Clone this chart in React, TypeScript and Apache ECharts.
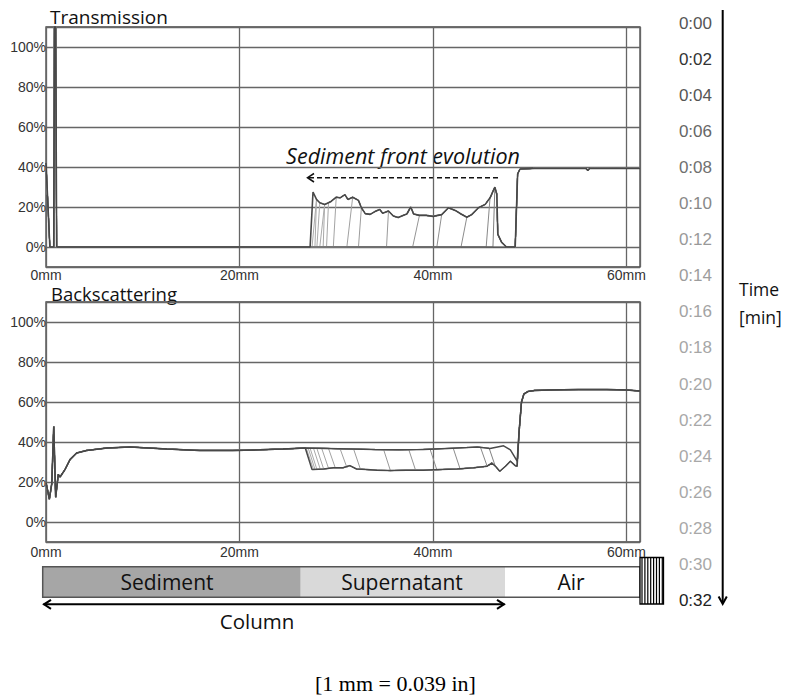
import React, { useEffect, useRef } from 'react';
import * as echarts from 'echarts';

// ---------- DATA ----------
const timeLabels = ['0:00', '0:02', '0:04', '0:06', '0:08', '0:10', '0:12', '0:14', '0:16', '0:18', '0:20', '0:22', '0:24', '0:26', '0:28', '0:30', '0:32'];
const timeColors = ['#555', '#333', '#555', '#666', '#707070', '#888', '#999', '#9c9c9c', '#a3a3a3', '#a6a6a6', '#a8a8a8', '#a8a8a8', '#a8a8a8', '#a8a8a8', '#a8a8a8', '#a8a8a8', '#222'];

// Transmission (% vs mm)
const tEntrance: number[][] = [[0, 42], [0.4, 0], [0.8, 0], [0.88, 125], [0.99, 125], [1.1, 0]];
const tFronts = [47.6, 46.2, 45.5, 42.9, 40.4, 37.9, 35.2, 32.3, 31.1, 29.7, 29.0, 28.65, 28.3, 28.0, 27.8, 27.5, 27.3];
const tSupernatant: number[][] = [
  [27.4, 28.2], [27.6, 27.5], [27.96, 23.8], [28.3, 22.1], [28.8, 21.3], [29.2, 22.1], [29.5, 22.9], [30.0, 24.9],
  [30.4, 24.6], [30.9, 26.2], [31.2, 23.8], [31.7, 24.9], [32.3, 23.3], [32.6, 19.6], [33.0, 16.7], [33.5, 16.3],
  [34.0, 17.7], [34.5, 18.8], [34.8, 16.9], [35.4, 18.0], [35.9, 15.5], [36.4, 14.7], [36.9, 15.8], [37.3, 16.5],
  [37.7, 20.0], [38.0, 16.5], [38.6, 15.8], [39.3, 15.8], [40.0, 15.3], [40.9, 16.2], [41.6, 19.6], [42.3, 18.3],
  [42.9, 16.5], [43.5, 14.9], [44.0, 16.2], [44.7, 19.6], [45.4, 21.3], [45.9, 24.6], [46.4, 29.9], [46.6, 26.4],
  [46.7, 6.4], [47.1, 2.3], [47.6, 0],
];
const tAir: number[][] = [[48.5, 0], [48.75, 36.5], [49.0, 39.0], [50.5, 39.3], [53, 39.3], [55.8, 39.3], [56.0, 38.3], [56.2, 39.3], [59, 39.4], [61.4, 39.3]];

// Backscattering (% vs mm)
const bsUpper: number[][] = [
  [0, 19.8], [0.35, 11.4], [0.6, 19.3], [0.8, 47.7], [1.0, 12.4], [1.27, 23.8], [1.45, 22.5], [1.96, 26.2],
  [2.48, 31.2], [3.17, 34.5], [4.2, 35.8], [6.3, 37.0], [8.7, 37.5], [12.5, 36.5], [15.9, 35.8], [19.3, 35.8],
  [22.1, 36.1], [24.5, 36.5], [26.9, 37.0], [29, 36.8], [31.5, 36.5], [34, 36.2], [36.5, 36.1], [39, 36.3],
  [41.5, 36.8], [43.5, 37.2], [44.6, 37.5], [45.9, 36.8], [47.3, 38.1], [48.0, 36.1], [48.3, 33.7], [48.7, 30.4],
];
const bsLower: number[][] = [
  [27.6, 26.2], [28.7, 26.5], [29.7, 27.1], [30.7, 27.1], [31.4, 28.2], [32.1, 26.5], [33.2, 26.2], [34.2, 25.9],
  [35.6, 25.7], [37.3, 25.9], [39.0, 25.9], [40.7, 26.2], [42.5, 26.5], [44.2, 27.1], [45.6, 27.9], [46.1, 29.5],
  [46.6, 27.1], [46.9, 25.4], [47.5, 27.9], [48.0, 30.4], [48.5, 28.2], [48.7, 27.9],
];
// drop of each profile: [x top, % top, x bottom, % bottom]
const bsDrops: (number[] | null)[] = [
  null,
  [45.8, 37.0, 46.4, 28.5], [44.9, 37.5, 45.6, 27.9], [42.1, 36.8, 42.8, 26.6], [39.7, 36.4, 40.4, 26.1],
  [37.5, 36.2, 38.2, 25.9], [34.9, 36.2, 35.6, 25.7], [31.8, 36.4, 32.5, 26.4], [30.4, 36.6, 31.1, 27.3],
  [29.2, 36.8, 29.9, 27.1], [28.5, 36.8, 29.2, 26.9], [28.0, 36.8, 28.7, 26.5], [27.65, 36.9, 28.35, 26.4],
  [27.3, 36.9, 28.0, 26.3], [27.1, 37.0, 27.8, 26.3], [26.95, 37.0, 27.65, 26.2], [26.8, 37.0, 27.5, 26.2],
];
const bsAir: number[][] = [[48.9, 45], [49.15, 60], [49.4, 64.0], [49.8, 65.2], [50.5, 65.8], [52, 66.0], [55, 66.2], [58, 66.2], [60, 66.0], [61.4, 65.5]];

// ---------- STYLE ----------
const lineColors = ['#4a4a4a', '#808080', '#888', '#8c8c8c', '#909090', '#959595', '#999', '#9c9c9c', '#a0a0a0', '#a3a3a3', '#a6a6a6', '#a8a8a8', '#aaa', '#aaa', '#aaa', '#aaa', '#484848'];
const AX_FONT = '"Liberation Sans", Arial, sans-serif';
const CAL_FONT = '"Open Sans", "Noto Sans", sans-serif';

function buildOption() {
  const tSeries = timeLabels.map((_, i) => {
    const f = tFronts[i];
    const data = [
      ...tEntrance,
      [f, 0],
      ...tSupernatant.filter((p) => p[0] > f + 0.1),
      ...tAir,
    ];
    const dark = i === 0 || i === 16;
    return {
      type: 'line', xAxisIndex: 0, yAxisIndex: 0, data, symbol: 'none', silent: true, z: dark ? 3 : 2,
      lineStyle: { color: lineColors[i], width: i === 16 ? 1.6 : 1 },
    };
  });
  const bsSeries = timeLabels.map((_, i) => {
    const d = bsDrops[i];
    const data = d
      ? [...bsUpper.filter((p) => p[0] < d[0]), [d[0], d[1]], [d[2], d[3]], ...bsLower.filter((p) => p[0] > d[2]), ...bsAir]
      : [...bsUpper, ...bsAir];
    const dark = i === 0 || i === 16;
    return {
      type: 'line', xAxisIndex: 1, yAxisIndex: 1, data, symbol: 'none', silent: true, z: dark ? 3 : 2,
      lineStyle: { color: lineColors[i], width: dark ? 1.5 : 1 },
    };
  });

  const xAx = (g: number) => ({
    type: 'value', gridIndex: g, min: 0, max: 61.4, interval: 20,
    axisLine: { show: false }, axisTick: { show: false },
    axisLabel: { formatter: '{value}mm', showMaxLabel: false, margin: g === 0 ? 1 : 3, lineHeight: 13, fontFamily: AX_FONT, fontSize: 14, color: '#333' },
    splitLine: { show: true, lineStyle: { color: '#666', width: 1.3 } },
  });
  const yAx = (g: number) => ({
    type: 'value', gridIndex: g, min: -10, max: 110,
    axisLine: { show: false }, axisTick: { show: false },
    axisLabel: {
      formatter: (v: number) => `${Math.round(v)}%`, showMinLabel: false, showMaxLabel: false,
      margin: 0, fontFamily: AX_FONT, fontSize: 14, color: '#333', padding: [0, 0, 7, 0],
    },
    splitLine: { show: true, lineStyle: { color: '#666', width: 1.3 } },
  });

  const stripes = Array.from({ length: 8 }, (_, k) => ({
    type: 'line', shape: { x1: 642 + 2.9 * k, y1: 558, x2: 642 + 2.9 * k, y2: 604 },
    style: { stroke: '#000', lineWidth: 1.2 }, silent: true,
  }));

  const txt = (text: string, x: number, y: number, font: string, align = 'center', fill = '#111', lineHeight?: number) => ({
    type: 'text', x, y, silent: true,
    style: { text, font, fill, align, textAlign: align, verticalAlign: 'middle', textVerticalAlign: 'middle', ...(lineHeight ? { lineHeight } : {}) },
  });

  return {
    animation: false,
    backgroundColor: '#fff',
    grid: [
      { left: 46, top: 27, width: 594, height: 240, show: true, borderColor: '#444', borderWidth: 1.3, backgroundColor: 'transparent' },
      { left: 46, top: 302, width: 594, height: 240, show: true, borderColor: '#444', borderWidth: 1.3, backgroundColor: 'transparent' },
      { left: 722, top: 5.5, width: 10, height: 612.85, show: false },
    ],
    xAxis: [xAx(0), xAx(1), { type: 'value', gridIndex: 2, show: false }],
    yAxis: [
      yAx(0), yAx(1),
      {
        type: 'category', gridIndex: 2, data: timeLabels, inverse: true,
        axisLine: { show: false }, axisTick: { show: false }, splitLine: { show: false },
        axisLabel: { margin: 10, fontFamily: AX_FONT, fontSize: 17, color: (_: any, idx: number) => timeColors[idx] },
      },
    ],
    series: [...tSeries, ...bsSeries],
    graphic: [
      txt('Transmission', 50, 17, `19px ${CAL_FONT}`, 'left', '#111', 17),
      txt('Backscattering', 51, 293, `18.5px ${CAL_FONT}`, 'left', '#111', 16),
      txt('Sediment front evolution', 403, 155, `italic 21.5px ${CAL_FONT}`),
      { type: 'line', shape: { x1: 498, y1: 177.7, x2: 309, y2: 177.7 }, style: { stroke: '#111', lineWidth: 1.5, lineDash: [5, 3] }, silent: true },
      { type: 'polyline', shape: { points: [[314, 173.5], [307.5, 177.7], [314, 182]] }, style: { stroke: '#111', lineWidth: 1.5, fill: 'none' }, silent: true },
      // column bar
      { type: 'rect', shape: { x: 42.7, y: 566.7, width: 258, height: 30.6 }, style: { fill: '#a6a6a6' }, silent: true },
      { type: 'rect', shape: { x: 300.7, y: 566.7, width: 204.3, height: 30.6 }, style: { fill: '#d9d9d9' }, silent: true },
      { type: 'rect', shape: { x: 505, y: 566.7, width: 135, height: 30.6 }, style: { fill: '#fff' }, silent: true },
      { type: 'rect', shape: { x: 42.7, y: 566.7, width: 597.3, height: 30.6 }, style: { fill: 'none', stroke: '#555', lineWidth: 1.5 }, silent: true },
      { type: 'rect', shape: { x: 640, y: 557.5, width: 23.5, height: 46.5 }, style: { fill: '#fff', stroke: '#000', lineWidth: 1.3 }, silent: true },
      ...stripes,
      txt('Sediment', 167, 581.5, `21px ${CAL_FONT}`),
      txt('Supernatant', 402, 581.5, `21px ${CAL_FONT}`),
      txt('Air', 571, 581.5, `21px ${CAL_FONT}`),
      { type: 'line', shape: { x1: 43.5, y1: 604.3, x2: 504.5, y2: 604.3 }, style: { stroke: '#000', lineWidth: 2 }, silent: true },
      { type: 'polyline', shape: { points: [[51, 599.8], [44, 604.3], [51, 608.8]] }, style: { stroke: '#000', lineWidth: 2, fill: 'none' }, silent: true },
      { type: 'polyline', shape: { points: [[497, 599.8], [504, 604.3], [497, 608.8]] }, style: { stroke: '#000', lineWidth: 2, fill: 'none' }, silent: true },
      txt('Column', 257, 621, `20.5px ${CAL_FONT}`),
      // time axis
      { type: 'line', shape: { x1: 722.7, y1: 10, x2: 722.7, y2: 603 }, style: { stroke: '#000', lineWidth: 2 }, silent: true },
      { type: 'polyline', shape: { points: [[718.6, 596.5], [722.7, 604], [726.8, 596.5]] }, style: { stroke: '#000', lineWidth: 2, fill: 'none' }, silent: true },
      txt('Time', 739, 288.5, `17.5px ${CAL_FONT}`, 'left'),
      txt('[min]', 739, 316.5, `17.5px ${CAL_FONT}`, 'left'),
      txt('[1 mm = 0.039 in]', 395.5, 683, `22px "Liberation Serif", "Times New Roman", serif`, 'center', '#000'),
    ],
  };
}

export default function App() {
  const ref = useRef<HTMLDivElement>(null);
  useEffect(() => {
    if (!ref.current) return;
    const chart = echarts.init(ref.current, null, { renderer: 'svg' });
    chart.setOption(buildOption() as any);
    return () => chart.dispose();
  }, []);
  return <div ref={ref} style={{ position: 'absolute', left: 0, top: 0, width: 790, height: 700, background: '#fff' }} />;
}
